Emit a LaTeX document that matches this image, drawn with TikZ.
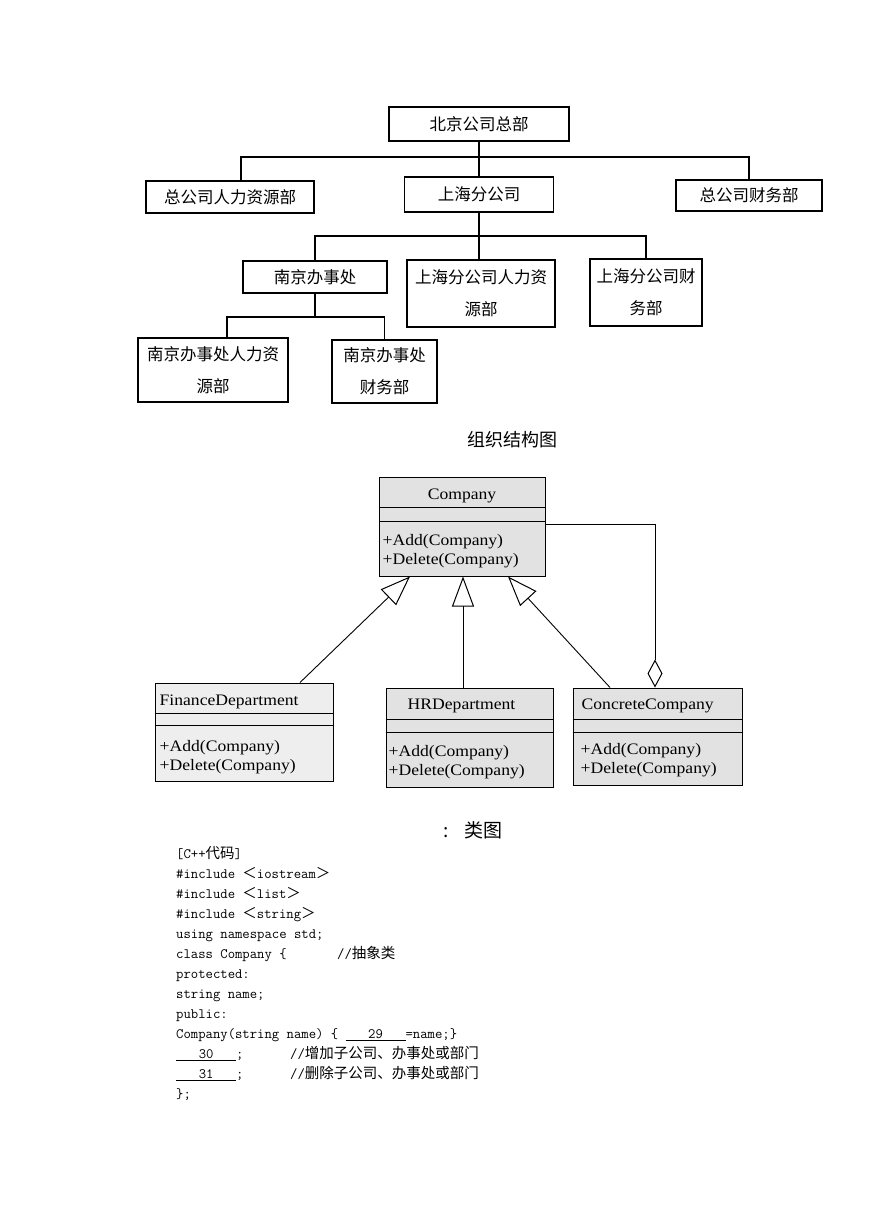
\documentclass[tikz,border=0pt]{standalone}
\usepackage{fontspec}
\newfontfamily\cjk{Noto Sans CJK SC}
\newfontfamily\umlfont[FakeStretch=1.1]{Liberation Serif}
\usetikzlibrary{arrows.meta, positioning, calc}
\definecolor{classfill}{RGB}{226,226,226}
\definecolor{classfilllight}{RGB}{238,238,238}
\newcommand\codezh[1]{{\cjk\fontsize{14.5}{20}\selectfont #1}}
\newcommand\codeblank[1]{\underline{\makebox[60pt]{#1}}}

\begin{document}
\begin{tikzpicture}[x=1pt, y=-1pt,
  orgbox/.style={draw, line width=1.6pt, inner sep=0pt, align=center, font=\cjk\fontsize{16.5}{32}\selectfont},
  orgline/.style={line width=1.8pt},
  classbox/.style={draw, line width=1pt, fill=classfill, inner sep=0pt},
  classline/.style={line width=1pt},
  classtext/.style={inner sep=0pt, font=\umlfont\fontsize{16}{19}\selectfont, align=left},
  inherit/.style={line width=0.9pt, -{Triangle[open, length=30pt, width=22pt, line width=1pt]}},
  aggr/.style={line width=0.9pt, -{Diamond[open, length=28pt, width=15pt, line width=1pt]}},
]
\useasboundingbox (0,0) rectangle (869,1228);

% Organisation chart
\node[orgbox, minimum width=180, minimum height=34] (hq) at (479,124) {北京公司总部};
\node[orgbox, minimum width=168, minimum height=32] (hqhr) at (230,197) {总公司人力资源部};
\node[orgbox, minimum width=149, minimum height=35] (sh) at (479,194.5) {上海分公司};
\node[orgbox, minimum width=146, minimum height=31] (hqfin) at (749,195.5) {总公司财务部};

\node[orgbox, minimum width=144, minimum height=32] (nj) at (315,277) {南京办事处};
\node[orgbox, minimum width=148, minimum height=67] (shhr) at (481,293.5) {上海分公司人力资\\源部};
\node[orgbox, minimum width=112, minimum height=67] (shfin) at (646,292.5) {上海分公司财\\务部};

\node[orgbox, minimum width=150, minimum height=64] (njhr) at (213,370) {南京办事处人力资\\源部};
\node[orgbox, minimum width=105, minimum height=63] (njfin) at (384.5,371.5) {南京办事处\\财务部};

\coordinate (bus1) at (479,157);
\coordinate (bus2) at (479,236);
\coordinate (bus3) at (315,317);

\draw[orgline] (hq.south) -- (sh.north);
\draw[orgline] ([xshift=11]hqhr.north) |- (bus1) -| (hqfin.north);
\draw[orgline] (sh.south) -- (sh.south |- shhr.north);
\draw[orgline] (nj.north) |- (bus2) -| (shfin.north);
\draw[orgline] (nj.south) -- (bus3);
\draw[orgline] ([xshift=14]njhr.north) |- (bus3) -| (njfin.north);

\node[font=\cjk\fontsize{18}{20}\selectfont] (orgcaption) at (512,440) {组织结构图};

% Class diagram
\node[classbox, minimum width=166, minimum height=99] (company) at (462,526.5) {};
\draw[classline] ([yshift=-31]company.north west) -- ([yshift=-31]company.north east);
\draw[classline] ([yshift=-45]company.north west) -- ([yshift=-45]company.north east);
\node[classtext] (companyname) at ([yshift=-19]company.north) {Company};
\node[classtext, anchor=north west] (companyops) at ([xshift=4,yshift=-58]company.north west) {+Add(Company)\\+Delete(Company)};

\node[classbox, fill=classfilllight, minimum width=178, minimum height=98] (finance) at (244,732) {};
\draw[classline] ([yshift=-31]finance.north west) -- ([yshift=-31]finance.north east);
\draw[classline] ([yshift=-43]finance.north west) -- ([yshift=-43]finance.north east);
\node[classtext, anchor=west] (financename) at ([xshift=5,yshift=-19]finance.north west) {FinanceDepartment};
\node[classtext, anchor=north west] (financeops) at ([xshift=5,yshift=-58]finance.north west) {+Add(Company)\\+Delete(Company)};

\node[classbox, minimum width=167, minimum height=99] (hr) at (469.5,737.5) {};
\draw[classline] ([yshift=-32]hr.north west) -- ([yshift=-32]hr.north east);
\draw[classline] ([yshift=-45]hr.north west) -- ([yshift=-45]hr.north east);
\node[classtext] (hrname) at ([xshift=-8,yshift=-18]hr.north) {HRDepartment};
\node[classtext, anchor=north west] (hrops) at ([xshift=3,yshift=-58]hr.north west) {+Add(Company)\\+Delete(Company)};

\node[classbox, minimum width=169, minimum height=97] (concrete) at (657.5,736.5) {};
\draw[classline] ([yshift=-32]concrete.north west) -- ([yshift=-32]concrete.north east);
\draw[classline] ([yshift=-45]concrete.north west) -- ([yshift=-45]concrete.north east);
\node[classtext, anchor=west] (concretename) at ([xshift=9,yshift=-18]concrete.north west) {ConcreteCompany};
\node[classtext, anchor=north west] (concreteops) at ([xshift=8,yshift=-56]concrete.north west) {+Add(Company)\\+Delete(Company)};

\draw[inherit] ([xshift=56]finance.north) -- ([xshift=-52]company.south);
\draw[inherit] ([xshift=-6.5]hr.north) -- ([xshift=-6.5]hr.north |- company.south);
\draw[inherit] ([xshift=-47.5]concrete.north) -- ([xshift=46]company.south);
\draw[aggr] ([yshift=-48]company.north east) -| ([xshift=-2.5]concrete.north);

\node[font=\cjk\fontsize{19}{20}\selectfont, anchor=west] (classcaption) at (440,830) {:\hspace{16pt}类图};

% C++ code
\node[anchor=north west, inner sep=0pt, align=left, font=\ttfamily\fontsize{14.3}{20}\selectfont] (code) at (176,846) {%
[C++\codezh{代码}]\\
\#include \codezh{＜}iostream\codezh{＞}\\
\#include \codezh{＜}list\codezh{＞}\\
\#include \codezh{＜}string\codezh{＞}\\
using namespace std;\\
\makebox[161pt][l]{class Company \{}//\codezh{抽象类}\\
protected:\\
string name;\\
public:\\
Company(string name) \{ \codeblank{29}=name;\}\\
\makebox[114pt][l]{\codeblank{30};}//\codezh{增加子公司、办事处或部门}\\
\makebox[114pt][l]{\codeblank{31};}//\codezh{删除子公司、办事处或部门}\\
\};};
\end{tikzpicture}
\end{document}
